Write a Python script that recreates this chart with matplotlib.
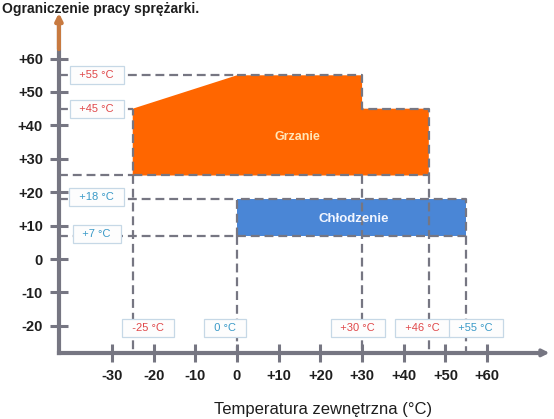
import matplotlib
matplotlib.use("Agg")
import matplotlib.pyplot as plt
from matplotlib.patches import Polygon

plt.rcParams['font.family'] = ['Liberation Sans', 'DejaVu Sans']

# ---- data ----
x_ticks = [-30, -20, -10, 0, 10, 20, 30, 40, 50, 60]
x_tick_labels = ['-30', '-20', '-10', '0', '+10', '+20', '+30', '+40', '+50', '+60']
y_ticks = [-20, -10, 0, 10, 20, 30, 40, 50, 60]
y_tick_labels = ['-20', '-10', '0', '+10', '+20', '+30', '+40', '+50', '+60']

# heating envelope (outdoor temp, water temp)
heat_x = [-25, 0, 30, 30, 46, 46, -25]
heat_y = [45, 55, 55, 45, 45, 25, 25]
# cooling envelope
cool_x = [0, 55]
cool_y = [7, 18]

heat_label_y = [55, 45]
cool_label_y = [18, 7]
heat_label_x = [-25, 30, 46]
cool_label_x = [0, 55]

title = 'Ograniczenie pracy sprężarki.'
xlabel = 'Temperatura zewnętrzna (°C)'
heat_name = 'Grzanie'
cool_name = 'Chłodzenie'

# ---- styling ----
ORANGE = '#ff6600'
BLUE = '#4a86d6'
GRAY = '#767682'
RED_TXT = '#e0484a'
BLUE_TXT = '#3a9ac8'

fig = plt.figure(figsize=(5.54, 4.19), dpi=100)
ax = fig.add_axes([0, 0, 1, 1])
ax.set_xlim(-56.83, 76.02)
ax.set_ylim(-47.9, 77.54)

yaxis_x = -42.7
xaxis_y = -28.1

for s in ['top', 'right']:
    ax.spines[s].set_visible(False)
ax.spines['left'].set_position(('data', yaxis_x))
ax.spines['bottom'].set_position(('data', xaxis_y))
ax.spines['left'].set_bounds(xaxis_y, 70)
ax.spines['bottom'].set_bounds(yaxis_x, 72)
for s in ['left', 'bottom']:
    ax.spines[s].set_color(GRAY)
    ax.spines[s].set_linewidth(3)
ax.set_xticks(x_ticks)
ax.set_xticklabels(x_tick_labels)
ax.set_yticks(y_ticks)
ax.set_yticklabels(y_tick_labels)
ax.tick_params(direction='inout', length=13, width=2.2, color=GRAY,
               labelsize=10.5, labelcolor='#1e1e1e', pad=5)
for lab in ax.get_xticklabels() + ax.get_yticklabels():
    lab.set_fontweight('bold')

# arrows
ax.annotate('', xy=(75.6, xaxis_y), xytext=(70, xaxis_y),
            arrowprops=dict(arrowstyle='-|>', color=GRAY, lw=2.5, mutation_scale=10))
ax.annotate('', xy=(yaxis_x, 74.5), xytext=(yaxis_x, 62),
            arrowprops=dict(arrowstyle='-|>', color='#c87a40', lw=3, mutation_scale=10))

dash = dict(color=GRAY, lw=1.6, linestyle=(0, (4, 2.2)))

# heating region
ax.add_patch(Polygon(list(zip(heat_x, heat_y)), closed=True, fc=ORANGE, ec='none', zorder=2))
ax.plot(heat_x[1:] + heat_x[:1], heat_y[1:] + heat_y[:1], zorder=3, **dash)
# cooling region
ax.add_patch(Polygon([(cool_x[0], cool_y[0]), (cool_x[1], cool_y[0]),
                      (cool_x[1], cool_y[1]), (cool_x[0], cool_y[1])],
                     closed=True, fc=BLUE, ec='none', zorder=2))
ax.plot([cool_x[0], cool_x[1], cool_x[1], cool_x[0], cool_x[0]],
        [cool_y[0], cool_y[0], cool_y[1], cool_y[1], cool_y[0]], zorder=3, **dash)

# horizontal guide lines
ax.plot([yaxis_x, heat_x[1]], [max(heat_y)] * 2, zorder=1, **dash)
ax.plot([yaxis_x, heat_x[0]], [heat_y[0]] * 2, zorder=1, **dash)
ax.plot([yaxis_x, heat_x[0]], [min(heat_y)] * 2, zorder=1, **dash)
ax.plot([yaxis_x, cool_x[0]], [cool_y[1]] * 2, zorder=1, **dash)
ax.plot([yaxis_x, cool_x[0]], [cool_y[0]] * 2, zorder=1, **dash)

# vertical guide lines
for xv in heat_label_x:
    ax.plot([xv, xv], [min(heat_y), xaxis_y], zorder=3, **dash)
for xv in cool_label_x:
    ax.plot([xv, xv], [cool_y[0], xaxis_y], zorder=3, **dash)

box = dict(boxstyle='square,pad=0.35', fc='#fdfdfd', ec='#c6d8e6', lw=0.9)

def lbl(v):
    return ('+' if v > 0 else '') + f'{v} °C'

left_x = -33.6
for v in heat_label_y:
    ax.text(left_x, v, '  ' + lbl(v) + '  ', ha='center', va='center', fontsize=8,
            color=RED_TXT, bbox=box, zorder=5)
for v in cool_label_y:
    ax.text(left_x, v + 0.6, '  ' + lbl(v) + '  ', ha='center', va='center', fontsize=8,
            color=BLUE_TXT, bbox=box, zorder=5)

bottom_y = -20.7
heat_off = [3.7, -1.0, -1.6]
cool_off = [-2.9, 2.3]
for v, o in zip(heat_label_x, heat_off):
    ax.text(v + o, bottom_y, '  ' + lbl(v) + '  ', ha='center', va='center', fontsize=8,
            color=RED_TXT, bbox=box, zorder=5)
for v, o in zip(cool_label_x, cool_off):
    ax.text(v + o, bottom_y, '  ' + lbl(v) + '  ', ha='center', va='center', fontsize=8,
            color=BLUE_TXT, bbox=box, zorder=5)

ax.text(14.5, 36.5, heat_name, ha='center', va='center', fontsize=9,
        fontweight='bold', color='#ffe6b8', zorder=4)
ax.text(28, 12, cool_name, ha='center', va='center', fontsize=9.5,
        fontweight='bold', color='#f2f6ff', zorder=4)

fig.text(323 / 554, 1 - 409 / 419, xlabel, ha='center', va='center', fontsize=12,
         color='#1e1e1e')
fig.text(2 / 554, 1 - 2 / 419, title, ha='left', va='top', fontsize=10,
         fontweight='bold', color='#1e1e1e')

fig.savefig('out.png', dpi=100)
